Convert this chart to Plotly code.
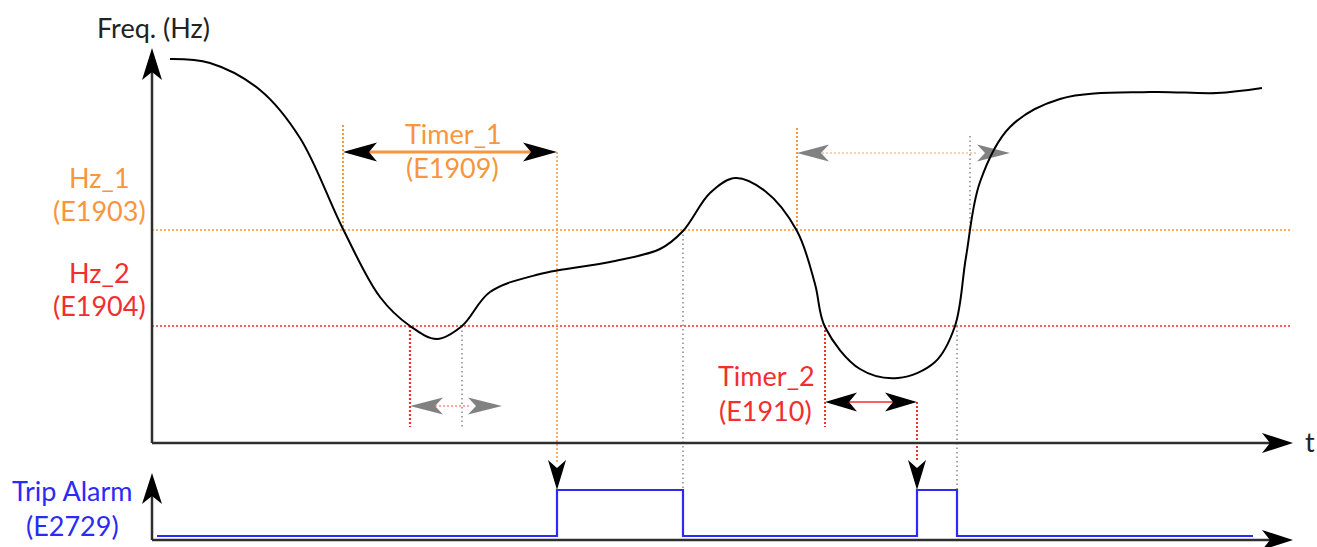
import plotly.graph_objects as go

# ---- data (screen units: time -> x, frequency -> y) ----
curve_t = [170, 210, 260, 300, 343, 380, 410, 437, 462, 490, 540, 610, 660, 683, 710, 735,
           765, 797, 815, 825, 860, 898, 935, 955, 966, 980, 1010, 1060, 1150, 1217, 1262]
curve_f = [59, 63, 90, 138, 229, 297, 326, 339, 326, 292, 274, 262, 249, 231, 193, 178,
           191, 231, 284, 327, 369, 378, 362, 326, 257, 182, 127, 99, 92, 93, 88]

hz1_level = 230          # Hz_1 (E1903)
hz2_level = 326          # Hz_2 (E1904)

# event times
t_hz1_down_1 = 343       # first fall below Hz_1 -> Timer_1 start
t_trip_1 = 557           # Timer_1 expiry -> trip
t_hz2_down_1 = 410       # first fall below Hz_2
t_hz2_up_1 = 462         # recovery above Hz_2 (too short)
t_hz1_up_1 = 683         # recovery above Hz_1 -> alarm reset
t_hz1_down_2 = 797       # second fall below Hz_1
t_hz1_up_2 = 970         # recovery above Hz_1 (too short)
t_hz2_down_2 = 825       # second fall below Hz_2 -> Timer_2 start
t_trip_2 = 917           # Timer_2 expiry -> trip
t_hz2_up_2 = 957         # recovery above Hz_2 -> alarm reset

alarm_t = [157, 557, 557, 683, 683, 917, 917, 957, 957, 1253]
alarm_state = [0, 0, 1, 1, 0, 0, 1, 1, 0, 0]

# axes geometry (screen units)
axis_x0 = 152
axis_x_end = 1293
freq_axis_y = 443
freq_axis_top = 48
alarm_axis_y = 540
alarm_axis_top = 473
alarm_low_y = 536
alarm_high_y = 490

ORANGE = "#F7963C"
RED = "#F22E2E"
BLUE = "#2B2BF5"
FONT = "Lato"

fig = go.Figure()


def line(xs, ys, color, width, dash="solid"):
    fig.add_trace(go.Scatter(x=xs, y=ys, mode="lines", hoverinfo="skip", showlegend=False,
                             line=dict(color=color, width=width, dash=dash)))


def head(tx, ty, dx, dy, color, L=32, W=19, notch=8):
    nx, ny = -dy, dx
    bx, by = tx - dx * L, ty - dy * L
    xs = [tx, bx + nx * W / 2, tx - dx * (L - notch), bx - nx * W / 2, tx]
    ys = [ty, by + ny * W / 2, ty - dy * (L - notch), by - ny * W / 2, ty]
    fig.add_trace(go.Scatter(x=xs, y=ys, mode="lines", fill="toself", fillcolor=color,
                             line=dict(width=0, color=color), hoverinfo="skip", showlegend=False))


DOT = "2px,2px"
GDOT = "1.5px,3px"

# threshold lines
line([axis_x0, 1292], [hz1_level, hz1_level], ORANGE, 1.5, DOT)
line([axis_x0, 1292], [hz2_level, hz2_level], RED, 1.5, DOT)

# vertical guide lines
line([t_hz1_down_1, t_hz1_down_1], [125, hz1_level], ORANGE, 2, DOT)
line([t_trip_1, t_trip_1], [152, 462], ORANGE, 1.5, DOT)
line([t_hz2_down_1, t_hz2_down_1], [hz2_level, 427], RED, 2.2, DOT)
line([t_hz2_up_1, t_hz2_up_1], [hz2_level, 427], "#777777", 1.3, GDOT)
line([t_hz1_up_1, t_hz1_up_1], [hz1_level, alarm_high_y], "#777777", 1.3, GDOT)
line([t_hz1_down_2, t_hz1_down_2], [128, hz1_level], ORANGE, 2, DOT)
line([t_hz1_up_2, t_hz1_up_2], [136, hz1_level], "#777777", 1.3, GDOT)
line([t_hz2_down_2, t_hz2_down_2], [hz2_level, 427], RED, 2, DOT)
line([t_trip_2, t_trip_2], [402, 462], RED, 2, DOT)
line([t_hz2_up_2, t_hz2_up_2], [hz2_level, alarm_high_y], "#777777", 1.3, GDOT)

# timer arrows
line([t_hz1_down_1 + 20, t_trip_1 - 20], [152, 152], ORANGE, 3)
head(t_hz1_down_1, 152, -1, 0, "black", 34, 19, 8)
head(t_trip_1, 152, 1, 0, "black", 34, 19, 8)

line([t_hz2_down_2 + 20, t_trip_2 - 20], [402, 402], RED, 1.5)
head(t_hz2_down_2, 402, -1, 0, "black", 32, 19, 8)
head(t_trip_2, 402, 1, 0, "black", 32, 19, 8)

# aborted timer arrows (gray)
line([t_hz2_down_1 + 25, 470], [406, 406], "#F58C8C", 1.5, DOT)
head(t_hz2_down_1, 406, -1, 0, "rgba(115,115,115,0.9)", 33, 17, 8)
head(502, 406, 1, 0, "rgba(115,115,115,0.9)", 34, 17, 8)

line([t_hz1_down_2 + 25, 978], [153, 153], "#F8C49A", 1.5, DOT)
head(t_hz1_down_2, 153, -1, 0, "rgba(115,115,115,0.9)", 32, 17, 8)
head(1010, 153, 1, 0, "rgba(115,115,115,0.9)", 33, 17, 8)

# trip arrows onto alarm
head(t_trip_1, alarm_high_y, 0, 1, "black", 30, 18, 8)
head(t_trip_2, alarm_high_y, 0, 1, "black", 30, 18, 8)

# frequency curve
fig.add_trace(go.Scatter(x=curve_t, y=curve_f, mode="lines", hoverinfo="skip", showlegend=False,
                         line=dict(color="black", width=2, shape="spline", smoothing=1.0)))

# alarm trace
alarm_y = [alarm_low_y - (alarm_low_y - alarm_high_y) * s for s in alarm_state]
line(alarm_t, alarm_y, BLUE, 2.2)

# axes
AX = "#2E2E2E"
line([axis_x0, axis_x0], [freq_axis_y, freq_axis_top + 20], AX, 2.5)
line([axis_x0, axis_x_end - 20], [freq_axis_y, freq_axis_y], AX, 2.5)
head(axis_x0, freq_axis_top, 0, -1, "black", 32, 20, 8)
head(axis_x_end, freq_axis_y, 1, 0, "black", 31, 20, 8)

line([axis_x0, axis_x0], [alarm_axis_y, alarm_axis_top + 20], AX, 2.5)
line([axis_x0, axis_x_end - 20], [alarm_axis_y, alarm_axis_y], AX, 2.5)
head(axis_x0, alarm_axis_top, 0, -1, "black", 31, 20, 8)
head(axis_x_end, alarm_axis_y, 1, 0, "black", 31, 20, 8)

# texts
texts = [
    ("Freq. (Hz)", 153, 27, "#222222"),
    ("t", 1310, 441, "#222222"),
    ("Hz_1", 99, 177, ORANGE),
    ("(E1903)", 99, 210, ORANGE),
    ("Hz_2", 99, 272, RED),
    ("(E1904)", 99, 305, RED),
    ("Timer_1", 453, 133, ORANGE),
    ("(E1909)", 452, 167, ORANGE),
    ("Timer_2", 766, 375, RED),
    ("(E1910)", 765, 410, RED),
    ("Trip Alarm", 72, 490, BLUE),
    ("(E2729)", 72, 525, BLUE),
]
for txt, x, y, c in texts:
    fig.add_annotation(x=x, y=y, text=txt, showarrow=False, xanchor="center", yanchor="middle",
                       font=dict(family=FONT, size=27, color=c))

fig.update_layout(
    width=1317, height=547, margin=dict(l=0, r=0, t=0, b=0),
    plot_bgcolor="white", paper_bgcolor="white",
    xaxis=dict(range=[0, 1317], visible=False, fixedrange=True),
    yaxis=dict(range=[547, 0], visible=False, fixedrange=True),
)

fig.write_html("out.html", config={"displayModeBar": False},
               post_script="document.body.style.margin='0';")
